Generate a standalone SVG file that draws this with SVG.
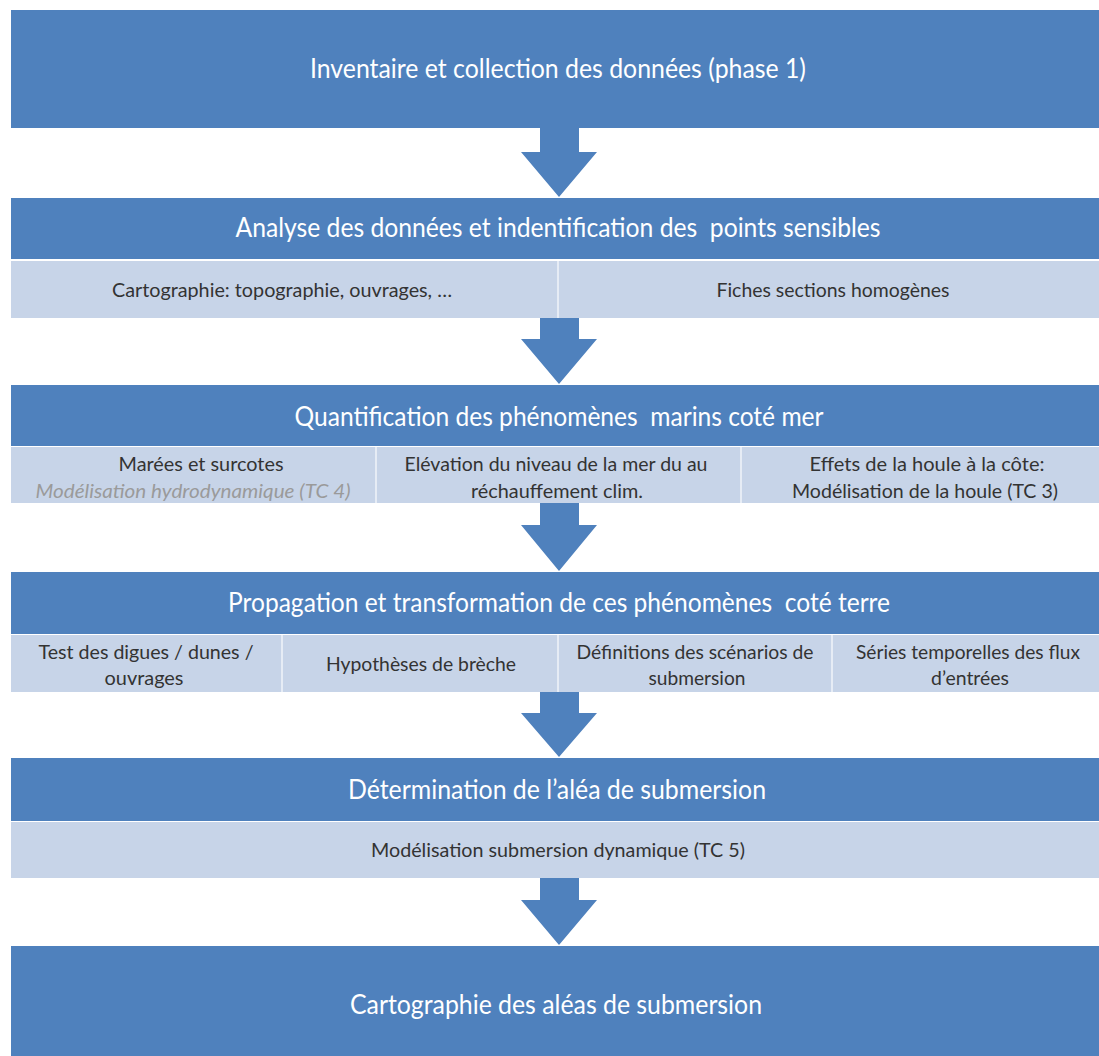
<svg xmlns="http://www.w3.org/2000/svg" width="1099" height="1056" viewBox="0 0 1099 1056">
<defs>
<style>
.hdr{fill:#4F81BD;}
.sub{fill:#C7D4E8;}
.div{stroke:#E6ECF5;stroke-width:2;}
.ht{font-family:Lato,"Open Sans","Liberation Sans",sans-serif;font-size:26px;fill:#FFFFFF;text-anchor:middle;white-space:pre;}
.st{font-family:Lato,"Open Sans","Liberation Sans",sans-serif;font-size:20px;fill:#333333;text-anchor:middle;white-space:pre;}
.it{font-style:italic;fill:#9A9A9A;}
.arr{fill:#4F81BD;}
</style>
</defs>
<rect width="1099" height="1056" fill="#FFFFFF"/>

<g id="connectors">
<polygon class="arr" points="540,128 579,128 579,152 597,152 559,197 521,152 540,152"/>
<polygon class="arr" points="540,318 579,318 579,339 597,339 559,384 521,339 540,339"/>
<polygon class="arr" points="540,503 579,503 579,525 597,525 559,571 521,525 540,525"/>
<polygon class="arr" points="540,692 579,692 579,713 597,713 559,757 521,713 540,713"/>
<polygon class="arr" points="540,878 579,878 579,900 597,900 559,945 521,900 540,900"/>
</g>

<g id="node1">
<rect class="hdr" x="11" y="10" width="1100" height="118"/>
<text class="ht" x="558" y="78" textLength="496" lengthAdjust="spacingAndGlyphs">Inventaire et collection des données (phase 1)</text>
</g>

<g id="node2">
<rect class="hdr" x="11" y="198" width="1100" height="61"/>
<rect class="sub" x="11" y="261" width="1100" height="57"/>
<line class="div" x1="558" y1="261" x2="558" y2="318"/>
<text class="ht" x="558" y="237" textLength="645" lengthAdjust="spacingAndGlyphs">Analyse des données et indentification des  points sensibles</text>
<text class="st" x="282" y="297" textLength="340" lengthAdjust="spacingAndGlyphs">Cartographie: topographie, ouvrages, …</text>
<text class="st" x="833" y="297" textLength="233" lengthAdjust="spacingAndGlyphs">Fiches sections homogènes</text>
</g>

<g id="node3">
<rect class="hdr" x="11" y="385" width="1100" height="61"/>
<rect class="sub" x="11" y="447" width="1100" height="56"/>
<line class="div" x1="376" y1="447" x2="376" y2="503"/>
<line class="div" x1="741" y1="447" x2="741" y2="503"/>
<text class="ht" x="559" y="426" textLength="529" lengthAdjust="spacingAndGlyphs">Quantification des phénomènes  marins coté mer</text>
<text class="st" x="201" y="471" textLength="165" lengthAdjust="spacingAndGlyphs">Marées et surcotes</text>
<text class="st it" x="193" y="498" textLength="315" lengthAdjust="spacingAndGlyphs">Modélisation hydrodynamique (TC 4)</text>
<text class="st" x="556" y="471" textLength="303" lengthAdjust="spacingAndGlyphs">Elévation du niveau de la mer du au</text>
<text class="st" x="557" y="498" textLength="172" lengthAdjust="spacingAndGlyphs">réchauffement clim.</text>
<text class="st" x="927" y="471" textLength="235" lengthAdjust="spacingAndGlyphs">Effets de la houle à la côte:</text>
<text class="st" x="925" y="498" textLength="266" lengthAdjust="spacingAndGlyphs">Modélisation de la houle (TC 3)</text>
</g>

<g id="node4">
<rect class="hdr" x="11" y="572" width="1100" height="62"/>
<rect class="sub" x="11" y="635" width="1100" height="57"/>
<line class="div" x1="282" y1="635" x2="282" y2="692"/>
<line class="div" x1="558" y1="635" x2="558" y2="692"/>
<line class="div" x1="832" y1="635" x2="832" y2="692"/>
<text class="ht" x="559" y="612" textLength="662" lengthAdjust="spacingAndGlyphs">Propagation et transformation de ces phénomènes  coté terre</text>
<text class="st" x="146" y="659" textLength="215" lengthAdjust="spacingAndGlyphs">Test des digues / dunes /</text>
<text class="st" x="144" y="685" textLength="79" lengthAdjust="spacingAndGlyphs">ouvrages</text>
<text class="st" x="421" y="671" textLength="190" lengthAdjust="spacingAndGlyphs">Hypothèses de brèche</text>
<text class="st" x="695" y="659" textLength="237" lengthAdjust="spacingAndGlyphs">Définitions des scénarios de</text>
<text class="st" x="697" y="685" textLength="97" lengthAdjust="spacingAndGlyphs">submersion</text>
<text class="st" x="968" y="659" textLength="224" lengthAdjust="spacingAndGlyphs">Séries temporelles des flux</text>
<text class="st" x="970" y="685" textLength="78" lengthAdjust="spacingAndGlyphs">d’entrées</text>
</g>

<g id="node5">
<rect class="hdr" x="11" y="758" width="1100" height="63"/>
<rect class="sub" x="11" y="822" width="1100" height="56"/>
<text class="ht" x="557" y="799" textLength="418" lengthAdjust="spacingAndGlyphs">Détermination de l’aléa de submersion</text>
<text class="st" x="558" y="857" textLength="374" lengthAdjust="spacingAndGlyphs">Modélisation submersion dynamique (TC 5)</text>
</g>

<g id="node6">
<rect class="hdr" x="11" y="946" width="1100" height="120"/>
<text class="ht" x="556" y="1014" textLength="412" lengthAdjust="spacingAndGlyphs">Cartographie des aléas de submersion</text>
</g>
</svg>
